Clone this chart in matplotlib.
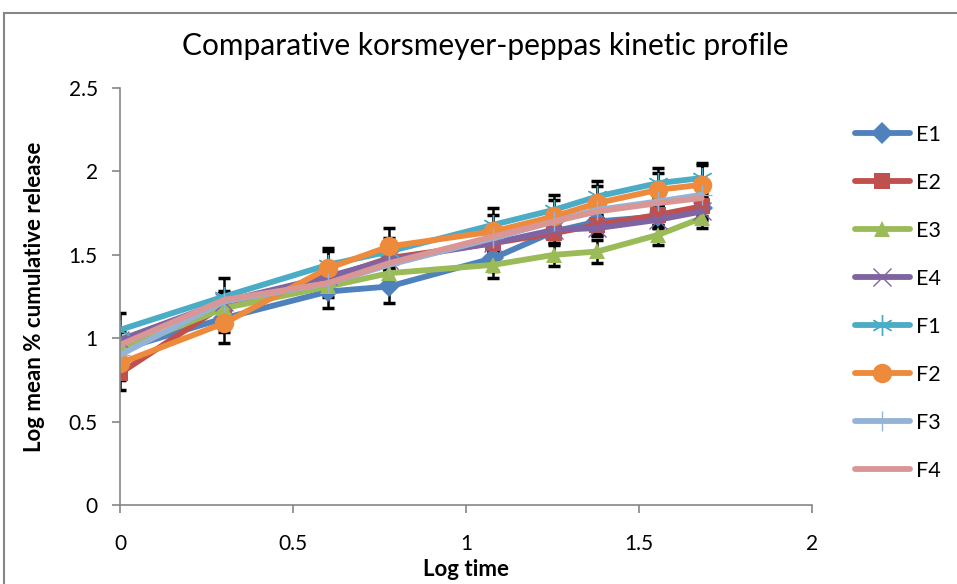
#Importing
import numpy as np
import matplotlib
matplotlib.use("Agg")
import matplotlib.pyplot as plt
from matplotlib.patches import Rectangle

plt.rcParams['font.family'] = ['Lato', 'DejaVu Sans']

#Log time values
LogTime = [0, 0.301, 0.602, 0.778, 1.079, 1.255, 1.380, 1.556, 1.681]

#Log mean % cumulative release for each formulation
E1 = [0.93, 1.12, 1.28, 1.31, 1.48, 1.64, 1.70, 1.73, 1.78]
E2 = [0.79, 1.20, 1.36, 1.48, 1.57, 1.63, 1.68, 1.74, 1.79]
E3 = [0.93, 1.18, 1.31, 1.39, 1.44, 1.50, 1.52, 1.62, 1.72]
E4 = [0.99, 1.22, 1.37, 1.47, 1.57, 1.65, 1.66, 1.71, 1.76]
F1 = [1.05, 1.25, 1.44, 1.52, 1.68, 1.77, 1.85, 1.93, 1.96]
F2 = [0.85, 1.09, 1.42, 1.55, 1.64, 1.73, 1.81, 1.89, 1.92]
F3 = [0.90, 1.22, 1.33, 1.44, 1.60, 1.70, 1.77, 1.82, 1.86]
F4 = [0.96, 1.23, 1.33, 1.45, 1.61, 1.70, 1.76, 1.81, 1.84]

#Standard deviations (log scale)
E1err = [0.08, 0.08, 0.10, 0.10, 0.08, 0.08, 0.07, 0.07, 0.06]
E2err = [0.10, 0.08, 0.06, 0.07, 0.06, 0.06, 0.06, 0.06, 0.06]
E3err = [0.06, 0.07, 0.06, 0.06, 0.08, 0.07, 0.07, 0.06, 0.06]
E4err = [0.05, 0.05, 0.05, 0.05, 0.05, 0.05, 0.05, 0.05, 0.05]
F1err = [0.10, 0.11, 0.08, 0.08, 0.10, 0.09, 0.09, 0.09, 0.09]
F2err = [0.10, 0.12, 0.12, 0.11, 0.10, 0.10, 0.10, 0.10, 0.12]
F3err = [0.04, 0.04, 0.04, 0.04, 0.04, 0.04, 0.04, 0.04, 0.04]
F4err = [0.04, 0.04, 0.04, 0.04, 0.04, 0.04, 0.04, 0.04, 0.04]

Names = ["E1", "E2", "E3", "E4", "F1", "F2", "F3", "F4"]
Series = [E1, E2, E3, E4, F1, F2, F3, F4]
Errors = [E1err, E2err, E3err, E4err, F1err, F2err, F3err, F4err]

#Excel style colours and markers
COL = ['#4F81BD', '#C0504D', '#9BBB59', '#8064A2', '#4BACC6', '#EE8A3C', '#95B3D7', '#D99694']
MRK = ['D', 's', '^', 'x', (6, 2, 0), 'o', '+', None]
MSZ = [11, 12, 12, 13, 15, 14, 15, 0]
MEW = [0, 0, 0, 1, 1, 0, 1, 0]

fig = plt.figure(figsize=(9.57, 5.84), dpi=100)
ax = fig.add_axes([120/957, 1-505/584, (812-120)/957, (505-88)/584])

#Error bars first, lines over them
for i in range(len(Series)):
    ax.errorbar(LogTime, Series[i], yerr=Errors[i], fmt='none', ecolor='black',
                elinewidth=1.8, capsize=4.5, capthick=2.5, zorder=1.5)

#Plot each series
for i in range(len(Series)):
    ax.plot(LogTime, Series[i], color=COL[i], lw=4.2, marker=MRK[i], markersize=MSZ[i],
            markeredgewidth=MEW[i], markeredgecolor=COL[i], markerfacecolor=COL[i],
            label=Names[i], solid_capstyle='round', zorder=2+i*0.01)

#Format the axes
ax.set_xlim(0, 2)
ax.set_ylim(0, 2.5)
ax.set_xticks([0, 0.5, 1, 1.5, 2])
ax.set_yticks([0, 0.5, 1, 1.5, 2, 2.5])
ax.xaxis.set_major_formatter(plt.FuncFormatter(lambda v, p: "%g" % v))
ax.yaxis.set_major_formatter(plt.FuncFormatter(lambda v, p: "%g" % v))
for s in ['top', 'right']:
    ax.spines[s].set_visible(False)
for s in ['left', 'bottom']:
    ax.spines[s].set_color('#868686')
    ax.spines[s].set_linewidth(1.2)
ax.tick_params(axis='x', direction='out', length=6, width=1.2, color='#868686', pad=15, labelsize=15)
ax.tick_params(axis='y', direction='out', length=6, width=1.2, color='#868686', pad=10, labelsize=15)

#Label the axes
ax.set_xlabel("Log time", fontsize=16, fontweight='bold')
ax.set_ylabel("Log mean % cumulative release", fontsize=16, fontweight='bold')
ax.yaxis.set_label_coords(-(120-45)/692, 0.5)
ax.xaxis.set_label_coords(0.5, -(559-505)/417)

#Title
fig.text(485/957, 1-46/584, "Comparative korsmeyer-peppas kinetic profile", fontsize=21.5,
         ha='center', va='center')

#Make the legend
ax.legend(loc='upper left', bbox_to_anchor=(855/957, 1-125/584), bbox_transform=fig.transFigure,
          frameon=False, fontsize=15.5, handlelength=2.55, labelspacing=1.3, handletextpad=0.3,
          borderpad=0, borderaxespad=0)

#Outer chart border
fig.patches.append(Rectangle((4/957, -0.05), 1.0, 1-13/584+0.05, transform=fig.transFigure,
                             fill=False, edgecolor='#868686', lw=1.5))

#Save the graph
plt.savefig("out.png", dpi=100)
